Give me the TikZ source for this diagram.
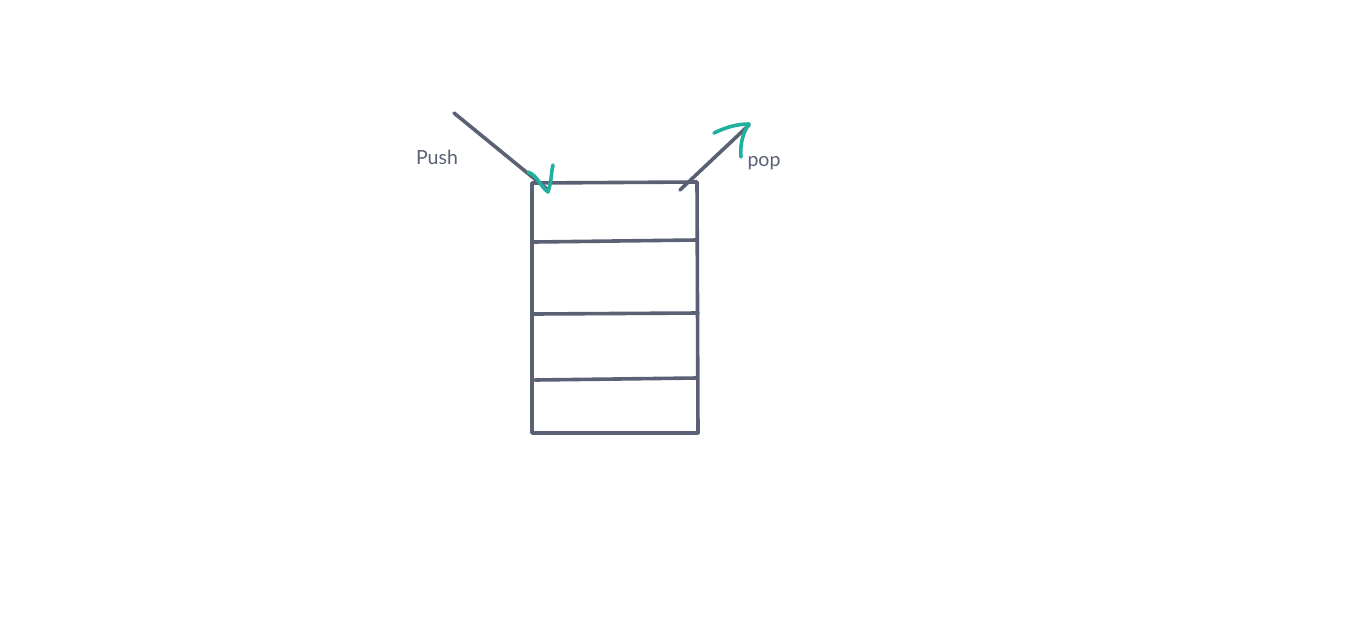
\documentclass[tikz,border=0pt]{standalone}
\usepackage{fontspec}
\setmainfont{Lato}
\definecolor{ink}{HTML}{5A6175}
\definecolor{teal}{HTML}{1FB09E}
\begin{document}
\begin{tikzpicture}[x=1pt,y=-1pt,
  stroke/.style={draw=ink,line width=3.6pt,line cap=round,line join=round},
  tip/.style={draw=teal,line width=3.6pt,line cap=round,line join=round},
  lbl/.style={text=ink,font=\fontsize{19.5}{22}\selectfont,inner sep=0pt}]
\useasboundingbox[fill=white] (0,0) rectangle (1360,625);
% stack outline
\coordinate (tl) at (532,183);
\coordinate (tr) at (697,182);
\coordinate (br) at (698,433);
\coordinate (bl) at (532,433);
\draw[stroke] (tl) -- (tr) -- (br) -- (bl) -- cycle;
% dividers
\coordinate (d1a) at (534,242); \coordinate (d1b) at (697,240);
\coordinate (d2a) at (534,314); \coordinate (d2b) at (698,313);
\coordinate (d3a) at (535,380); \coordinate (d3b) at (697,378);
\draw[stroke] (d1a) -- (d1b);
\draw[stroke] (d2a) -- (d2b);
\draw[stroke] (d3a) -- (d3b);
% push arrow
\coordinate (ps) at (454,113);
\coordinate (pe) at (547,189);
\draw[stroke] (ps) -- (pe);
\coordinate (pt1) at (528,172);
\coordinate (pt2) at (553,165);
\draw[tip] (pt1) .. controls (538,176) and (540,186) .. (548,192) .. controls (552,180) and (551,172) .. (pt2);
\node[lbl] (push) at (437,157) {Push};
% pop arrow
\coordinate (os) at (680,190);
\coordinate (oe) at (749,125);
\draw[stroke] (os) -- (oe);
\coordinate (ot1) at (714,133);
\coordinate (ot2) at (741,157);
\draw[tip] (ot1) .. controls (726,127) and (738,124) .. (749,124) .. controls (742,134) and (740,146) .. (ot2);
\node[lbl] (pop) at (764,163) {pop};
\end{tikzpicture}
\end{document}
